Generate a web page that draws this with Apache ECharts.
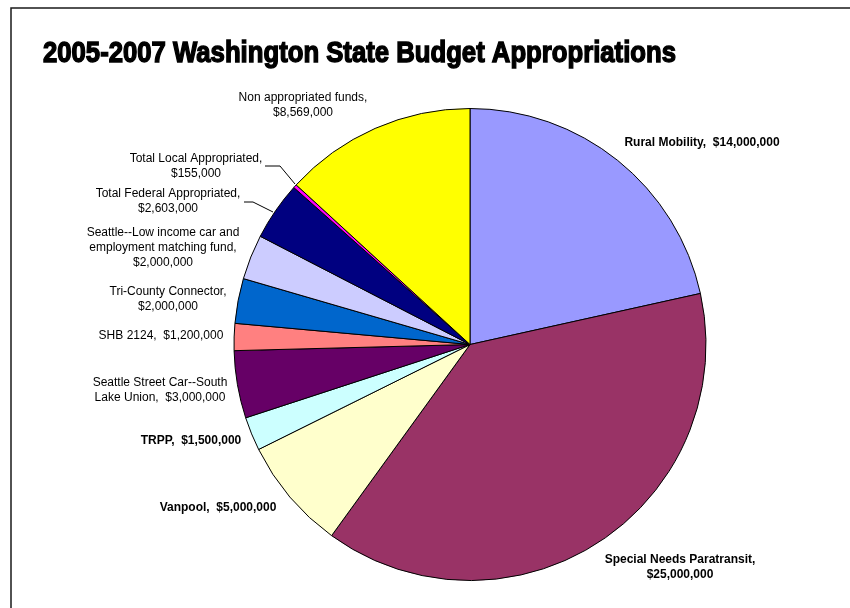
<!DOCTYPE html>
<html>
<head>
<meta charset="utf-8">
<script src="https://cdn.jsdelivr.net/npm/echarts@6/dist/echarts.min.js"></script>
<style>
  html, body { margin: 0; padding: 0; background: #fff; }
  #chart { width: 850px; height: 608px; }
</style>
</head>
<body>
<div id="chart"></div>
<script>
// Budget lines, clockwise from 12 o'clock
const categories = [
  'Rural Mobility',
  'Special Needs Paratransit',
  'Vanpool',
  'TRPP',
  'Seattle Street Car--South Lake Union',
  'SHB 2124',
  'Tri-County Connector',
  'Seattle--Low income car and employment matching fund',
  'Total Federal Appropriated',
  'Total Local Appropriated',
  'Non appropriated funds'
];
const amounts = [14000000, 25000000, 5000000, 1500000, 3000000, 1200000, 2000000, 2000000, 2603000, 155000, 8569000];

// Label text lines (name part), as wrapped on the chart
const labelNames = [
  ['Rural Mobility,'],
  ['Special Needs Paratransit,'],
  ['Vanpool,'],
  ['TRPP,'],
  ['Seattle Street Car--South', 'Lake Union,'],
  ['SHB 2124,'],
  ['Tri-County Connector,'],
  ['Seattle--Low income car and', 'employment matching fund,'],
  ['Total Federal Appropriated,'],
  ['Total Local Appropriated,'],
  ['Non appropriated funds,']
];
// whether value continues on the same line as the last name line
const sameLine = [true, false, true, true, true, true, false, false, false, false, false];
const boldLabel = [true, true, true, true, false, false, false, false, false, false, false];

const colors = ['#9999FF', '#993366', '#FFFFCC', '#CCFFFF', '#660066', '#FF8080',
                '#0066CC', '#CCCCFF', '#000080', '#FF00FF', '#FFFF00'];

// Label placement: text block centre for each slice
const labelSpots = [
  [702, 143], [680, 567], [218, 508], [191, 441], [160, 390], [161, 336],
  [168, 299], [163, 248], [168, 201], [196, 166], [303, 105]
];
// leader lines for the two thin slices
const leaders = {
  8: [[244, 202], [253, 202], [273, 212]],
  9: [[265, 166], [280, 166], [295, 184]]
};

const titleText = '2005-2007 Washington State Budget Appropriations';
const titleFont = 'bold 29px "Liberation Sans", Arial, sans-serif';
const titleWidth = 633;

function money(v) {
  return '$' + v.toLocaleString('en-US');
}

// squeeze the heavy title into a condensed width
const measureCtx = document.createElement('canvas').getContext('2d');
measureCtx.font = titleFont;
const titleScale = titleWidth / measureCtx.measureText(titleText).width;

const data = categories.map((name, i) => {
  const lines = labelNames[i].slice();
  if (sameLine[i]) {
    lines[lines.length - 1] = lines[lines.length - 1] + '  ' + money(amounts[i]);
  } else {
    lines.push(money(amounts[i]));
  }
  return {
    name: name,
    value: amounts[i],
    itemStyle: { color: colors[i] },
    label: {
      formatter: lines.join('\n'),
      fontWeight: boldLabel[i] ? 'bold' : 'normal'
    },
    labelLine: leaders[i] ? { show: true, lineStyle: { color: '#000', width: 1 } } : { show: false }
  };
});

const chart = echarts.init(document.getElementById('chart'), null, { renderer: 'canvas' });
chart.setOption({
  backgroundColor: '#fff',
  animation: false,
  graphic: [
    {
      type: 'rect',
      shape: { x: 11, y: 8, width: 900, height: 700 },
      style: { fill: 'none', stroke: '#1a1a1a', lineWidth: 1.5 },
      silent: true,
      z: 0
    },
    {
      type: 'text',
      x: 43,
      y: 39,
      scaleX: titleScale,
      style: {
        text: titleText,
        font: titleFont,
        fill: '#000',
        stroke: '#000',
        lineWidth: 1.4
      },
      z: 10
    }
  ],
  series: [{
    type: 'pie',
    center: [470, 344.5],
    radius: [0, 236],
    startAngle: 90,
    clockwise: true,
    avoidLabelOverlap: false,
    minAngle: 0,
    itemStyle: { borderColor: '#000', borderWidth: 1 },
    label: {
      show: true,
      position: 'outside',
      color: '#000',
      fontFamily: '"Liberation Sans", Arial, sans-serif',
      fontSize: 12,
      lineHeight: 15,
      align: 'center'
    },
    labelLine: { show: false },
    emphasis: { disabled: true },
    labelLayout: function (p) {
      const i = p.dataIndex;
      const res = {
        x: labelSpots[i][0],
        y: labelSpots[i][1],
        align: 'center',
        verticalAlign: 'middle',
        hideOverlap: false
      };
      if (leaders[i]) res.labelLinePoints = leaders[i];
      return res;
    },
    data: data
  }]
});
</script>
</body>
</html>
